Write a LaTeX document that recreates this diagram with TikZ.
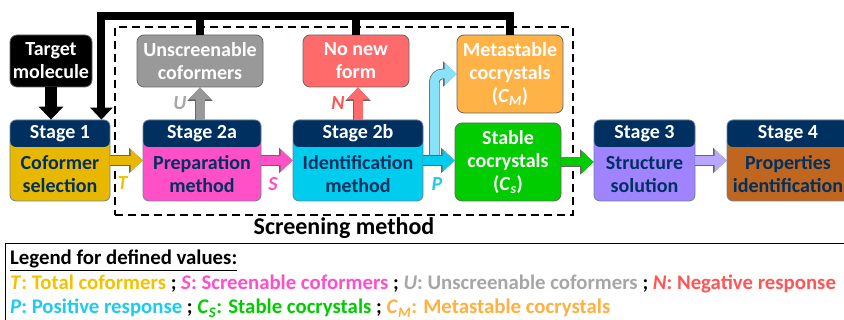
\documentclass[tikz,border=0pt]{standalone}
\usepackage{fontspec}
\setmainfont{Carlito}
\usepackage{xcolor}
\usetikzlibrary{arrows.meta,positioning,calc}
\definecolor{navy}{HTML}{003060}
\definecolor{s1col}{HTML}{E8B800}
\definecolor{s2acol}{HTML}{FF50C8}
\definecolor{s2bcol}{HTML}{00CCEE}
\definecolor{s3col}{HTML}{A083FF}
\definecolor{s4col}{HTML}{C0661E}
\definecolor{ucol}{HTML}{999999}
\definecolor{ncol}{HTML}{FF6B6B}
\definecolor{mcol}{HTML}{FFB347}
\definecolor{gcol}{HTML}{00CC00}
\definecolor{plight}{HTML}{88E2F8}
\definecolor{larr}{HTML}{B9A6FF}
\definecolor{ttxt}{HTML}{F2C200}
\definecolor{stxt}{HTML}{FF4FC8}
\definecolor{ptxt}{HTML}{1ECBEE}
\definecolor{ntxt}{HTML}{FF5555}
\definecolor{utxt}{HTML}{A6A6A6}
\definecolor{mtxt}{HTML}{FFB040}
\newcommand\boxfont{\fontsize{20}{23}\selectfont\bfseries}
\tikzset{
  stage/.style={rectangle, rounded corners=6pt, draw=navy!60, line width=0.8pt, minimum height=81pt, inner sep=0pt,
    path picture={\fill[navy] (path picture bounding box.north west) rectangle ([yshift=-27pt]path picture bounding box.north east);}},
  stagehead/.style={anchor=north, minimum height=27pt, inner sep=0pt, text=white, font=\boxfont},
  stagebody/.style={anchor=south, minimum height=54pt, inner sep=0pt, align=center, text=navy, font=\boxfont},
  outbox/.style={rectangle, rounded corners=7pt, draw=black!60, line width=0.8pt, text=white, align=center, font=\boxfont, inner sep=0pt},
  screenbox/.style={rectangle, draw, line width=2.2pt, dash pattern=on 8pt off 5pt},
  blk/.style={line width=9pt, draw=#1, -{Triangle[length=12pt,width=22pt]},
    preaction={draw=black!60, line width=10.6pt, -{Triangle[length=13.5pt,width=24.5pt]}}},
  fbline/.style={line width=8pt, black, line join=miter},
  lab/.style={font=\fontsize{20}{20}\selectfont\bfseries\itshape, inner sep=1pt},
  legtext/.style={font=\fontsize{20.8}{24}\selectfont\bfseries, inner sep=0pt}
}
\begin{document}
\begin{tikzpicture}[x=1pt, y=-1pt]
  \useasboundingbox (0,0) rectangle (844,320);

  % Screening frame
  \node[screenbox, minimum width=458pt, minimum height=188pt] (scr) at (344,121) {};
  \node[font=\fontsize{24}{24}\selectfont\bfseries, anchor=north, inner sep=1pt] (scrlab) at (scr.south) {Screening method};

  % Stages
  \node[stage, fill=s1col, minimum width=100pt, label={[stagehead]north:Stage 1}, label={[stagebody]south:Coformer\\selection}] (s1) at (60,160.5) {};
  \node[stage, fill=s2acol, minimum width=118pt, label={[stagehead]north:Stage 2a}, label={[stagebody]south:Preparation\\method}] (s2a) at (202,160.5) {};
  \node[stage, fill=s2bcol, minimum width=130pt, label={[stagehead]north:Stage 2b}, label={[stagebody]south:Identification\\method}] (s2b) at (358,160.5) {};
  \node[stage, fill=s3col, minimum width=101pt, label={[stagehead]north:Stage 3}, label={[stagebody]south:Structure\\solution}] (s3) at (644.5,160.5) {};
  \node[stage, fill=s4col, minimum width=122pt, label={[stagehead]north:Stage 4}, label={[stagebody]south:Properties\\identification}] (s4) at (788,160.5) {};

  % Outcome boxes
  \node[outbox, fill=black, minimum width=82pt, minimum height=52pt] (tgt) at (51,61) {Target\\molecule};
  \node[outbox, fill=ucol, minimum width=126pt, minimum height=52pt] (unsc) at (200,61) {Unscreenable\\coformers};
  \node[outbox, fill=ncol, minimum width=106pt, minimum height=52pt] (nonew) at (356,61) {No new\\form};
  \node[outbox, fill=mcol, minimum width=106pt, minimum height=78pt] (meta) at (510,74) {Metastable\\cocrystals\\(\textit{C}\textsubscript{\textit{M}})};
  \node[outbox, fill=gcol, minimum width=106pt, minimum height=78pt] (stab) at (508,162) {Stable\\cocrystals\\(\textit{C}\textsubscript{\textit{s}})};

  % Flow arrows
  \coordinate (pb) at ($(s2b.east)+(11,0)$);
  \draw[blk=plight, rounded corners=8pt] (pb) |- (meta.west);
  \draw[blk=s1col] (s1) -- (s2a) node[lab, midway, below=11pt, xshift=-4pt, text=ttxt] (tlab) {T};
  \draw[blk=s2acol] (s2a) -- (s2b) node[lab, midway, below=11pt, xshift=-4pt, text=stxt] (slab) {S};
  \draw[blk=s2bcol] (s2b) -- (s2b -| stab.west) node[lab, midway, below=12pt, xshift=-2pt, text=ptxt] (plab) {P};
  \draw[blk=ucol] (s2a.north -| unsc.south) -- (unsc.south) node[lab, midway, left=8pt, text=utxt] (ulab) {U};
  \draw[blk=ncol] (s2b.north) -- (s2b.north |- nonew.south) node[lab, midway, left=8pt, text=ntxt] (nlab) {N};
  \draw[blk=gcol] (stab) -- (stab -| s3.west);
  \draw[blk=larr] (s3) -- (s4);

  % Target and feedback
  \draw[line width=12pt, -{Triangle[length=13pt,width=24pt]}] (tgt.south) -- (tgt.south |- s1.north);
  \coordinate (fbin) at ([xshift=-9pt]s1.north east);
  \draw[fbline, -{Triangle[length=12pt,width=22pt]}] (meta.north) |- (fbin |- 0,16) -- (fbin);
  \draw[fbline] (unsc.north) -- (unsc.north |- 0,16);
  \draw[fbline] (nonew.north) -- (nonew.north |- 0,16);

  % Legend
  \node[draw, line width=1.2pt, minimum width=860pt, minimum height=100pt, anchor=north west] (leg) at (5,243) {};
  \node[legtext, anchor=base west] (leg1) at (10,265) {\underline{Legend for defined values:}};
  \node[legtext, anchor=base west] (leg2) at (10,290) {\textcolor{ttxt}{\textit{T}: Total coformers} ; \textcolor{stxt}{\textit{S}: Screenable coformers} ; \textcolor{utxt}{\textit{U}: Unscreenable coformers} ; \textcolor{ntxt}{\textit{N}: Negative response}};
  \node[legtext, anchor=base west] (leg3) at (10,314) {\textcolor{ptxt}{\textit{P}: Positive response} ; \textcolor{gcol}{\textit{C}\textsubscript{\textit{S}}: Stable cocrystals} ; \textcolor{mtxt}{\textit{C}\textsubscript{\textit{M}}: Metastable cocrystals}};
\end{tikzpicture}
\end{document}
